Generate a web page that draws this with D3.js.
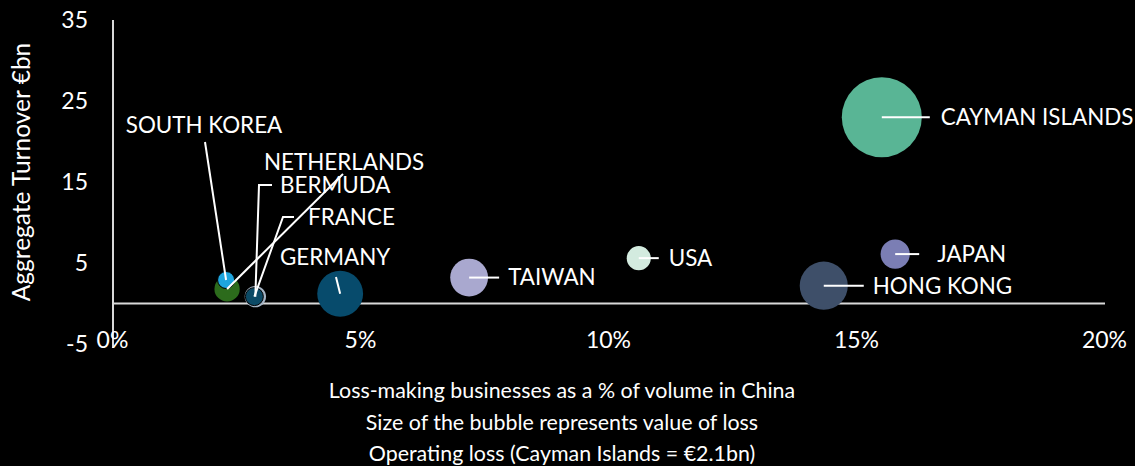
<!DOCTYPE html>
<html>
<head>
<meta charset="utf-8">
<script src="https://cdn.jsdelivr.net/npm/d3@7"></script>
<style>
  html, body { margin: 0; padding: 0; background: #000; }
  svg { display: block; }
  text { font-family: Lato, "Open Sans", sans-serif; fill: #ffffff; }
</style>
</head>
<body>
<svg id="chart" width="1135" height="466"></svg>
<script>
// Countries with loss-making businesses in China
const countries = ["CAYMAN ISLANDS", "JAPAN", "HONG KONG", "USA", "TAIWAN", "GERMANY",
                   "NETHERLANDS", "SOUTH KOREA", "BERMUDA", "FRANCE"];
// Loss-making businesses as a share of volume in China (%)
const lossShare = [15.5, 15.77, 14.33, 10.6, 7.18, 4.58, 2.3, 2.28, 2.87, 2.85];
// Aggregate turnover (€bn)
const turnover = [23.0, 6.1, 2.2, 5.6, 3.2, 1.2, 1.8, 2.9, 0.85, 0.85];
// Operating loss (€bn), drives bubble area
const operatingLoss = [2.1, 0.28, 0.76, 0.19, 0.47, 0.69, 0.21, 0.095, 0.15, 0.106];
const bubbleColors = ["#59b595", "#7b7eb4", "#3e4f69", "#d3ebdf", "#a9a8cf", "#074b6c",
                      "#2c6b1c", "#1ea5de", "#a5b4c4", "#0c4a66"];

const xTicks = [0, 5, 10, 15, 20];
const yTicks = [-5, 5, 15, 25, 35];

const svg = d3.select("#chart");

const x = d3.scaleLinear().domain([0, 20]).range([113, 1105]);
const y = d3.scaleLinear().domain([-5, 35]).range([344, 20]);
const r = d3.scaleSqrt().domain([0, 2.1]).range([0, 40]);

const axisColor = "#d9d9d9";

// Vertical axis line
svg.append("line")
  .attr("x1", x(0)).attr("x2", x(0))
  .attr("y1", y(35)).attr("y2", y(-5) + 4)
  .attr("stroke", axisColor).attr("stroke-width", 2);

// Horizontal axis crossing at zero
svg.append("line")
  .attr("x1", x(0)).attr("x2", x(20))
  .attr("y1", y(0)).attr("y2", y(0))
  .attr("stroke", axisColor).attr("stroke-width", 2);

// Y tick labels
const yAxis = d3.axisLeft(y).tickValues(yTicks).tickSize(0).tickPadding(0)
  .tickFormat(d => String(d));
const gy = svg.append("g").attr("transform", "translate(88,0)").call(yAxis);
gy.select(".domain").remove();
gy.selectAll("text").attr("font-size", 23).attr("fill", "#fff")
  .style("font-family", "Lato, 'Open Sans', sans-serif");

// X tick labels
const xAxis = d3.axisBottom(x).tickValues(xTicks).tickSize(0).tickPadding(0)
  .tickFormat(d => d + "%");
const gx = svg.append("g").attr("transform", "translate(-1,332)").call(xAxis);
gx.select(".domain").remove();
gx.selectAll("text").attr("font-size", 23).attr("fill", "#fff")
  .style("font-family", "Lato, 'Open Sans', sans-serif");

// Y axis title
svg.append("text")
  .attr("transform", "translate(30,172) rotate(-90)")
  .attr("text-anchor", "middle")
  .attr("font-size", 24.5)
  .text("Aggregate Turnover €bn");

// Bottom captions
const captions = ["Loss-making businesses as a % of volume in China",
                  "Size of the bubble represents value of loss",
                  "Operating loss (Cayman Islands = €2.1bn)"];
svg.append("g").selectAll("text").data(captions).join("text")
  .attr("x", 562)
  .attr("y", (d, i) => 398 + i * 31.5)
  .attr("text-anchor", "middle")
  .attr("font-size", 21.4)
  .text(d => d);

const data = countries.map((c, i) => ({
  name: c, share: lossShare[i], turnover: turnover[i], loss: operatingLoss[i], color: bubbleColors[i]
}));

// Bubbles, largest first so small ones stay visible
const order = ["CAYMAN ISLANDS", "HONG KONG", "GERMANY", "TAIWAN", "JAPAN", "USA",
               "NETHERLANDS", "SOUTH KOREA", "BERMUDA", "FRANCE"];
const sorted = order.map(n => data.find(d => d.name === n));
svg.append("g").selectAll("circle").data(sorted).join("circle")
  .attr("cx", d => x(d.share))
  .attr("cy", d => y(d.turnover))
  .attr("r", d => r(d.loss))
  .attr("fill", d => d.color)
  .attr("stroke", d => d.name === "FRANCE" || d.name === "SOUTH KOREA" ? "#000" : "none")
  .attr("stroke-width", 1);

// Label placement: simple labels sit to the right of their bubble,
// crowded ones get a fixed spot with a bent leader line
const labelLayout = {
  "CAYMAN ISLANDS": { lineEnd: 48, textDx: 59 },
  "JAPAN":          { lineEnd: 24, textDx: 42 },
  "HONG KONG":      { lineEnd: 40, textDx: 49 },
  "TAIWAN":         { lineEnd: 30, textDx: 39 },
  "USA":            { lineEnd: 20, textDx: 30 },
  "SOUTH KOREA":    { tx: 204, ty: 125, anchor: "middle", path: [[205, 142]] },
  "NETHERLANDS":    { tx: 264, ty: 162, anchor: "start", path: [[343, 174]] },
  "BERMUDA":        { tx: 280, ty: 185, anchor: "start", path: [[272, 185], [259, 185]] },
  "FRANCE":         { tx: 308, ty: 217, anchor: "start", path: [[294, 217], [283, 217]] },
  "GERMANY":        { tx: 280, ty: 257, anchor: "start", path: [[336, 277]] }
};

const labels = svg.append("g");
data.forEach(d => {
  const cx = x(d.share), cy = y(d.turnover);
  const L = labelLayout[d.name];
  let pts, tx, ty, anchor;
  if (L.lineEnd !== undefined) {
    pts = [[cx + L.lineEnd, cy], [cx, cy]];
    tx = cx + L.textDx; ty = cy; anchor = "start";
  } else {
    pts = L.path.concat([[cx, cy]]);
    tx = L.tx; ty = L.ty; anchor = L.anchor;
  }
  labels.append("path")
    .attr("d", d3.line()(pts))
    .attr("fill", "none")
    .attr("stroke", "#fff")
    .attr("stroke-width", 2);
  labels.append("text")
    .attr("x", tx).attr("y", ty)
    .attr("dy", "0.35em")
    .attr("text-anchor", anchor)
    .attr("font-size", 22.4)
    .text(d.name);
});
</script>
</body>
</html>
